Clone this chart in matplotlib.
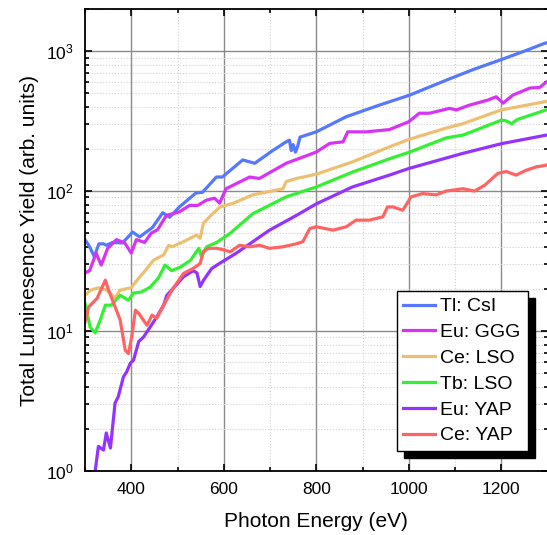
import matplotlib
matplotlib.use("Agg")
import matplotlib.pyplot as plt
from matplotlib.ticker import MultipleLocator, LogLocator

plt.rcParams['font.family'] = ['Liberation Sans', 'DejaVu Sans']

# ---- data (photon energy in eV, yield in arb. units) ----
csi_x = [300, 310, 320, 330, 340, 346, 360, 381, 403, 418, 446, 468, 483, 504, 540, 554,
         584, 597, 641, 667, 706, 735, 742, 746, 750, 755, 760, 765, 800, 865, 935, 1002,
         1081, 1140, 1200, 1250, 1293, 1300]
csi_y = [45, 40, 34, 42, 42, 41, 43, 42.6, 51, 47, 55, 70, 65, 77, 97, 98,
         126, 126, 167, 158, 195, 225, 231, 195, 215, 190, 210, 243, 265, 340, 410, 485,
         620, 740, 870, 1000, 1135, 1150]

ggg_x = [300, 310, 324, 335, 349, 368, 386, 400, 411, 429, 443, 457, 476, 504, 526, 544,
         562, 580, 591, 605, 656, 677, 735, 800, 829, 858, 868, 908, 958, 1000, 1023, 1045,
         1088, 1103, 1131, 1171, 1189, 1204, 1225, 1262, 1283, 1300]
ggg_y = [26, 27, 36, 29.6, 39, 45, 42.6, 36, 45, 43, 50, 53, 67, 71, 79, 79,
         86, 89, 82, 104, 126, 123, 158, 190, 219, 225, 265, 265, 275, 313, 360, 360,
         390, 380, 411, 447, 472, 425, 485, 545, 550, 610]

celso_x = [300, 312, 330, 347, 365, 376, 400, 412, 430, 448, 470, 481, 488, 513, 541, 549,
           556, 578, 592, 621, 663, 728, 735, 757, 800, 879, 958, 1002, 1081, 1117, 1200,
           1297, 1300]
celso_y = [18, 19.6, 20.4, 19.6, 17.2, 19.6, 20.4, 23, 27, 32, 35, 41, 40, 43.5, 48.5, 46,
           59, 70, 77, 82, 94, 104, 117, 123, 132, 162, 207, 235, 282, 303, 380,
           437, 440]

tblso_x = [300, 311, 322, 333, 344, 357, 376, 394, 405, 422, 441, 459, 473, 487, 506, 528,
           546, 552, 563, 585, 614, 663, 735, 800, 879, 958, 1002, 1081, 1117, 1200, 1210,
           1222, 1235, 1297, 1300]
tblso_y = [15.8, 10.7, 9.7, 12, 15.3, 15.3, 18, 16.6, 18.7, 19, 20.6, 24, 29.6, 27, 28.6, 32,
           39, 34, 40, 43, 50, 69, 91, 107, 137, 170, 190, 240, 251, 321, 318,
           303, 325, 380, 382]

euyap_x = [319, 322, 329, 340, 346, 355, 365, 372, 383, 390, 398, 405, 416, 427, 441, 455,
           470, 477, 513, 534, 542, 549, 556, 574, 592, 627, 699, 757, 800, 878, 958, 1000,
           1117, 1200, 1297, 1300]
euyap_y = [0.9, 1.0, 1.5, 1.41, 1.87, 1.46, 3.06, 3.4, 4.7, 5.1, 5.9, 6.2, 8.4, 9.1, 10.7, 12.6,
           15.3, 18, 24.4, 27, 26, 20.8, 23, 28, 30.6, 36, 52.6, 67, 81, 107, 130, 145,
           186, 218, 251, 252]

ceyap_x = [300, 308, 326, 344, 351, 365, 376, 387, 394, 401, 409, 416, 434, 445, 455, 470,
           488, 513, 534, 549, 556, 567, 585, 600, 614, 634, 656, 677, 699, 728, 757, 771,
           786, 800, 836, 865, 886, 915, 944, 954, 966, 987, 1005, 1030, 1059, 1081, 1117,
           1142, 1164, 1193, 1211, 1232, 1254, 1276, 1297, 1300]
ceyap_y = [11.6, 14.9, 17.1, 23.1, 19.6, 14.9, 12, 7.3, 6.9, 9.1, 14.1, 13.4, 11, 13, 12.3, 15.3,
           19.6, 25.8, 28, 30.4, 37, 39, 39, 38, 36.8, 41, 40, 41, 39, 40, 42, 43.5,
           54, 55.6, 52.6, 55.6, 62, 62, 65.5, 77, 77, 73, 91, 96, 94, 100, 104,
           100, 110, 134, 138, 130, 141, 149, 153, 155]

labels = ["Tl: CsI", "Eu: GGG", "Ce: LSO", "Tb: LSO", "Eu: YAP", "Ce: YAP"]
colors = ["#5578ff", "#d633f5", "#ecc070", "#33f033", "#9433ff", "#ff6464"]

series = [(csi_x, csi_y), (ggg_x, ggg_y), (celso_x, celso_y),
          (tblso_x, tblso_y), (euyap_x, euyap_y), (ceyap_x, ceyap_y)]

fig = plt.figure(figsize=(5.47, 5.35), dpi=100)
ax = fig.add_axes([85 / 547, 64 / 535, 462.5 / 547, 462 / 535])

for (xs, ys), lab, c in zip(series, labels, colors):
    ax.plot(xs, ys, color=c, lw=2.3, label=lab)

ax.set_yscale('log')
ax.set_xlim(300, 1300)
ax.set_ylim(1, 2000)

ax.xaxis.set_major_locator(MultipleLocator(200))
ax.xaxis.set_minor_locator(MultipleLocator(100))
ax.yaxis.set_minor_locator(LogLocator(base=10, subs=range(2, 10)))

ax.grid(which='major', color='#8a8a8a', lw=1.0)
ax.grid(which='minor', color='#d0d0d0', lw=0.8, ls=':')

ax.tick_params(which='both', direction='in', top=True, right=True, labelsize=12.5,
               width=1.2, pad=8)
ax.tick_params(which='major', length=5)
ax.tick_params(which='minor', length=3)
for s in ax.spines.values():
    s.set_linewidth(1.3)

ax.set_xlabel("Photon Energy (eV)", fontsize=15, labelpad=11)
ax.set_ylabel("Total Luminesence Yield (arb. units)", fontsize=15, labelpad=5)

leg = ax.legend(loc='lower right', bbox_to_anchor=(0.957, 0.043), borderaxespad=0,
                fontsize=14, fancybox=False, edgecolor='black', framealpha=1,
                handlelength=1.6, labelspacing=0.42, handletextpad=0.3, borderpad=0.35,
                shadow={'color': 'black', 'alpha': 1, 'ox': 5, 'oy': -5})
leg.get_frame().set_linewidth(1.0)

fig.savefig("out.png", dpi=100)
